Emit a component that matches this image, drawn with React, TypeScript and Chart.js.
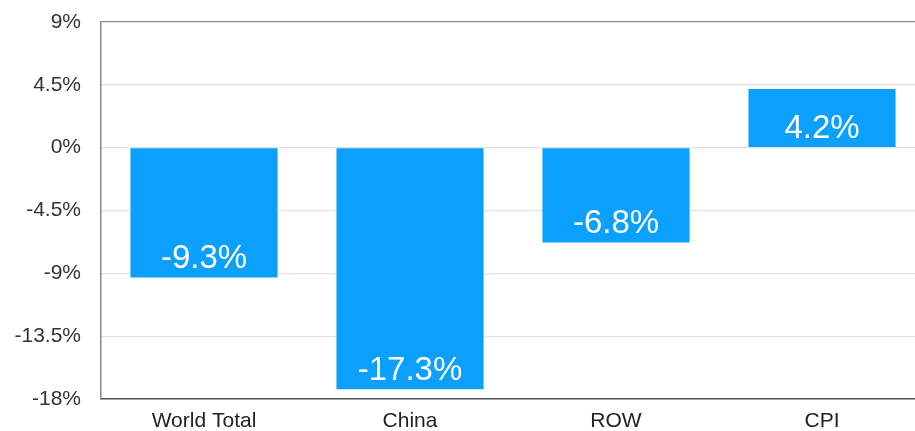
import React, { useEffect, useRef } from 'react';
import { Chart, registerables } from 'chart.js';

Chart.register(...registerables);

const categories = ['World Total', 'China', 'ROW', 'CPI'];
const values = [-9.3, -17.3, -6.8, 4.2];
const valueLabels = ['-9.3%', '-17.3%', '-6.8%', '4.2%'];
const yMin = -18;
const yMax = 9;
const yStep = 4.5;

const FONT = '"Liberation Sans", Arial, Helvetica, sans-serif';
const BAR_COLOR = '#0BA0FE';

const barLabelPlugin = {
  id: 'barLabels',
  afterDatasetsDraw(chart: any) {
    const ctx = chart.ctx;
    const meta = chart.getDatasetMeta(0);
    ctx.save();
    ctx.fillStyle = '#ffffff';
    ctx.font = `33px ${FONT}`;
    ctx.textAlign = 'center';
    ctx.textBaseline = 'alphabetic';
    meta.data.forEach((bar: any, i: number) => {
      const p = bar.getProps(['x', 'y', 'base'], true);
      const bottom = Math.max(p.y, p.base);
      ctx.fillText(valueLabels[i], p.x, bottom - 9.5);
    });
    ctx.restore();
  },
};

export default function App() {
  const ref = useRef<HTMLCanvasElement | null>(null);

  useEffect(() => {
    document.body.style.margin = '0';
    const canvas = ref.current;
    if (!canvas) return;
    const chart = new Chart(canvas, {
      type: 'bar',
      data: {
        labels: categories,
        datasets: [
          {
            data: values,
            backgroundColor: BAR_COLOR,
            borderWidth: 0,
            barPercentage: 0.714,
            categoryPercentage: 1,
          },
        ],
      },
      options: {
        responsive: false,
        animation: false,
        devicePixelRatio: 1,
        layout: { padding: { top: 22, left: 0, right: 0, bottom: 0 } },
        plugins: {
          legend: { display: false },
          tooltip: { enabled: false },
        },
        scales: {
          x: {
            grid: { display: false, drawTicks: false },
            border: { display: true, color: '#555', width: 1.5 },
            ticks: {
              font: { family: FONT, size: 21 },
              color: '#222',
              padding: 10,
              maxRotation: 0,
            },
            afterFit(scale: any) {
              scale.height = 32;
              scale.paddingLeft = 0;
              scale.paddingRight = 0;
            },
          },
          y: {
            min: yMin,
            max: yMax,
            grid: {
              drawTicks: false,
              color: (c: any) => (c.tick && c.tick.value === yMax ? '#888' : '#e2e2e2'),
              lineWidth: 1.2,
            },
            border: { display: true, color: '#888', width: 1.5 },
            ticks: {
              stepSize: yStep,
              font: { family: FONT, size: 21 },
              color: '#333',
              padding: 20,
              callback: (v: any) => `${v}%`,
            },
            afterFit(scale: any) {
              scale.width = 101;
              scale.paddingTop = 0;
              scale.paddingBottom = 0;
            },
          },
        },
      },
      plugins: [barLabelPlugin],
    });
    return () => chart.destroy();
  }, []);

  return (
    <div style={{ width: 915, height: 431, overflow: 'hidden', position: 'relative', background: '#fff' }}>
      <canvas ref={ref} width={925} height={431} style={{ display: 'block' }} />
    </div>
  );
}
